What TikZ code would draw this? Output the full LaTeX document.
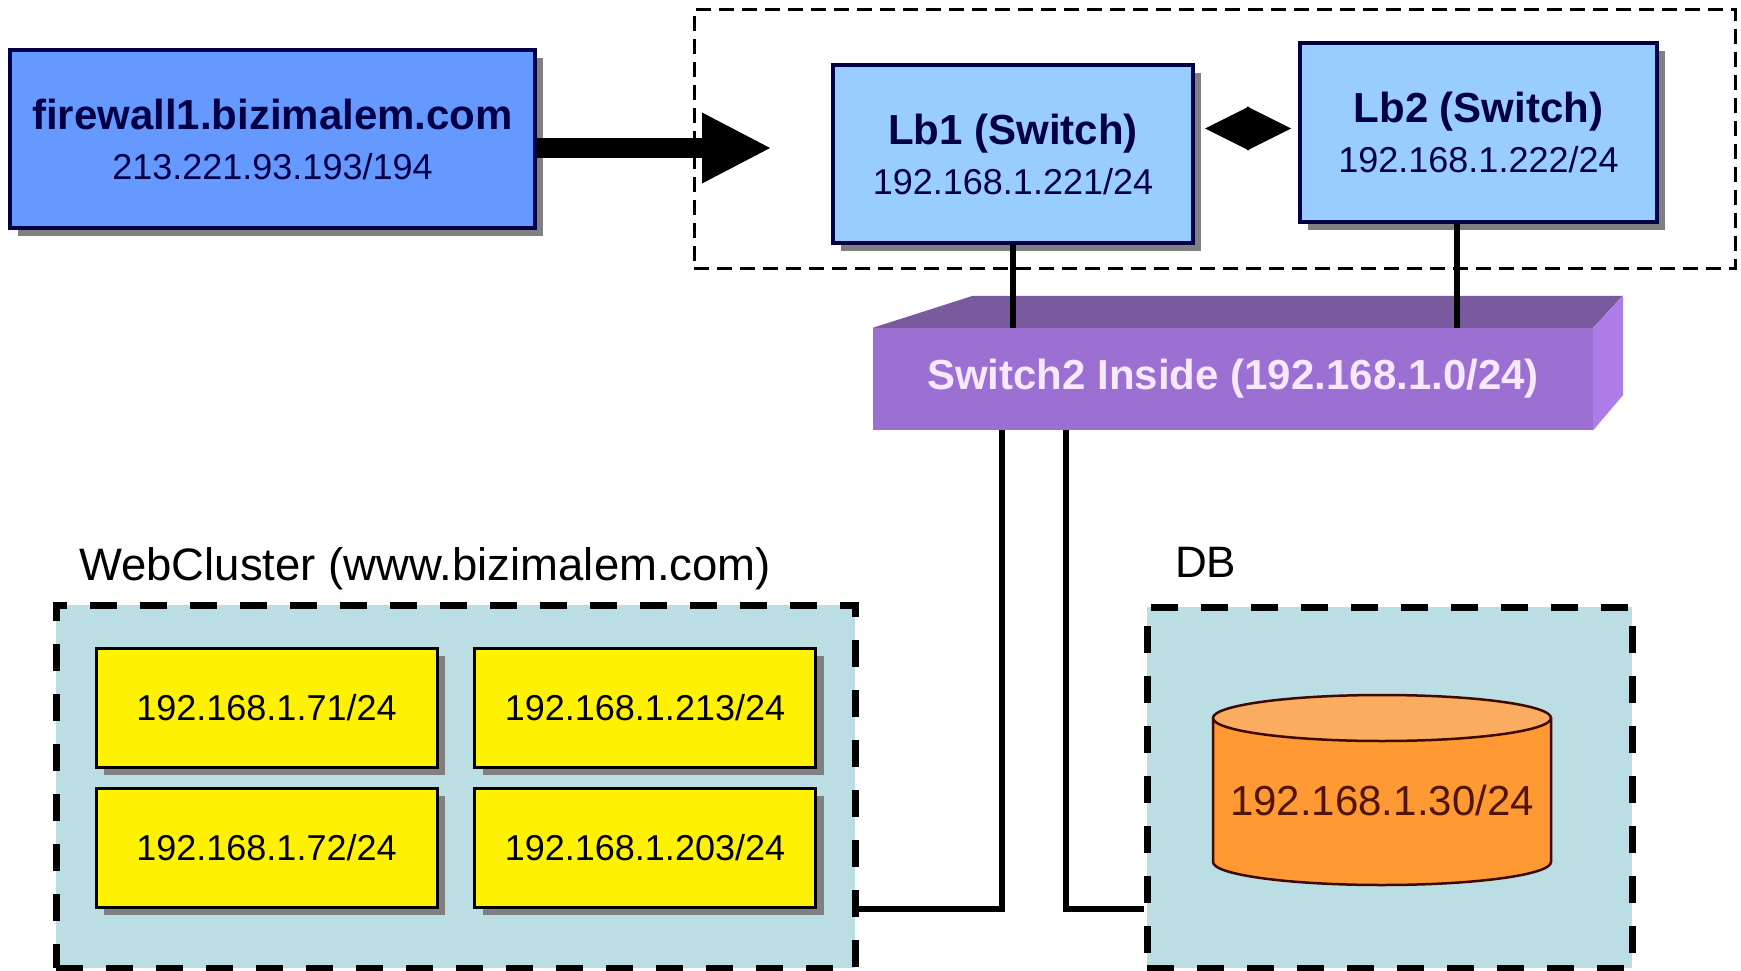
\documentclass[tikz,border=0pt]{standalone}
\usepackage{fontspec}
\setmainfont{Liberation Sans}
\usetikzlibrary{arrows.meta, shadows}

\definecolor{fwblue}{RGB}{102,153,255}
\definecolor{lbblue}{RGB}{153,204,255}
\definecolor{navytext}{RGB}{0,0,70}
\definecolor{grpfill}{RGB}{187,221,228}
\definecolor{swfront}{RGB}{155,112,210}
\definecolor{swtop}{RGB}{122,90,158}
\definecolor{swside}{RGB}{172,124,232}
\definecolor{swtext}{RGB}{246,232,255}
\definecolor{dborange}{RGB}{255,153,51}
\definecolor{dbtop}{RGB}{250,172,96}
\definecolor{dbline}{RGB}{60,10,0}
\definecolor{dbtext}{RGB}{80,20,0}

\begin{document}
\begin{tikzpicture}[x=1pt, y=-1pt,
		shadowed/.style={drop shadow={shadow xshift=8pt, shadow yshift=-8pt, fill=black!50, opacity=1}},
		hostbox/.style={rectangle, draw=navytext, line width=4pt, text=navytext, align=center, shadowed,
			minimum height=178pt, font=\fontsize{36pt}{50pt}\selectfont},
		webbox/.style={rectangle, draw, line width=3pt, fill=yellow, minimum width=341pt, minimum height=119pt,
			shadowed, font=\fontsize{36pt}{42pt}\selectfont},
		groupbox/.style={rectangle, draw, line width=7pt, dash pattern=on 27pt off 23pt, fill=grpfill},
		lbgroup/.style={rectangle, draw, line width=3pt, dash pattern=on 15pt off 8pt},
		grouplabel/.style={anchor=base west, inner sep=0pt, font=\fontsize{44pt}{50pt}\selectfont},
		swbox/.style={rectangle, fill=swfront, minimum width=720pt, minimum height=102pt, inner sep=0pt,
			text=swtext, font=\bfseries\fontsize{42pt}{48pt}\selectfont},
		wire/.style={line width=6pt},
		node distance=140pt
		]
	\fill[white] (0,0) rectangle (1741,971);
	\useasboundingbox (0,0) rectangle (1741,971);

	\node[groupbox, minimum width=799pt, minimum height=363pt](webgrp) at (455.5,786.5){};
	\node[groupbox, minimum width=485pt, minimum height=361pt](dbgrp) at (1389.5,787.5){};
	\node[grouplabel, font=\fontsize{45.5pt}{50pt}\selectfont](weblabel) at (79,580){WebCluster (www.bizimalem.com)};
	\node[grouplabel](dblabel) at (1175,577){DB};

	\node[webbox](web71) at (266.5,707.5){192.168.1.71/24};
	\node[webbox, right of = web71, xshift = 238.5pt](web213){192.168.1.213/24};
	\node[webbox, below of = web71](web72){192.168.1.72/24};
	\node[webbox, below of = web213](web203){192.168.1.203/24};

	\fill[dborange] (1213,718) -- (1213,862) arc[start angle=180, end angle=360, x radius=169pt, y radius=23pt] -- (1551,718) -- cycle;
	\draw[dbline, line width=2.5pt] (1213,718) -- (1213,862) arc[start angle=180, end angle=360, x radius=169pt, y radius=23pt] -- (1551,718);
	\filldraw[fill=dbtop, draw=dbline, line width=2.5pt] (1382,718) ellipse[x radius=169pt, y radius=23pt];
	\node[text=dbtext, font=\fontsize{42pt}{48pt}\selectfont](db) at (1382,800){192.168.1.30/24};

	\node[lbgroup, minimum width=1041pt, minimum height=258pt](lbgrp) at (1214.5,139){};
	\node[hostbox, fill=fwblue, minimum width=525pt](fw) at (272.5,139){\textbf{\fontsize{42pt}{50pt}\selectfont firewall1.bizimalem.com}\\213.221.93.193/194};
	\node[hostbox, fill=lbblue, minimum width=360pt](Lb1) at (1013,154){\textbf{\fontsize{42pt}{50pt}\selectfont Lb1 (Switch)}\\192.168.1.221/24};
	\node[hostbox, fill=lbblue, minimum width=357pt](Lb2) at (1478.5,132.5){\textbf{\fontsize{42pt}{50pt}\selectfont Lb2 (Switch)}\\192.168.1.222/24};

	\coordinate (fwtip) at (770,148);
	\draw[line width=20pt, -{Triangle[length=68pt, width=71pt, line width=0pt]}] (fw.east |- fwtip) -- (fwtip);
	\draw[line width=2pt, {Triangle[length=44pt, width=44pt, line width=0pt]}-{Triangle[length=44pt, width=44pt, line width=0pt]},
		shorten <=10pt, shorten >=7pt] ([yshift=4pt]Lb1.east |- Lb2.west) -- ([yshift=4pt]Lb2.west);

	\node[swbox](sw) at (1233,379){Switch2 Inside (192.168.1.0/24)};
	\fill[swtop] (sw.north west) -- ++(100,-32) -- ++(650,0) -- (sw.north east) -- cycle;
	\fill[swside] (sw.north east) -- ++(30,-32) -- ++(0,99) -- (sw.south east) -- cycle;

	\draw[wire] (Lb1.south) -- (Lb1.south |- sw.north);
	\draw[wire] ([xshift=-22pt]Lb2.south) -- ([xshift=-22pt]Lb2.south |- sw.north);
	\draw[wire] ([xshift=-231pt]sw.south) |- (webgrp.east |- web203.south);
	\draw[wire] ([xshift=-167pt]sw.south) |- (dbgrp.west |- web203.south);
\end{tikzpicture}
\end{document}
